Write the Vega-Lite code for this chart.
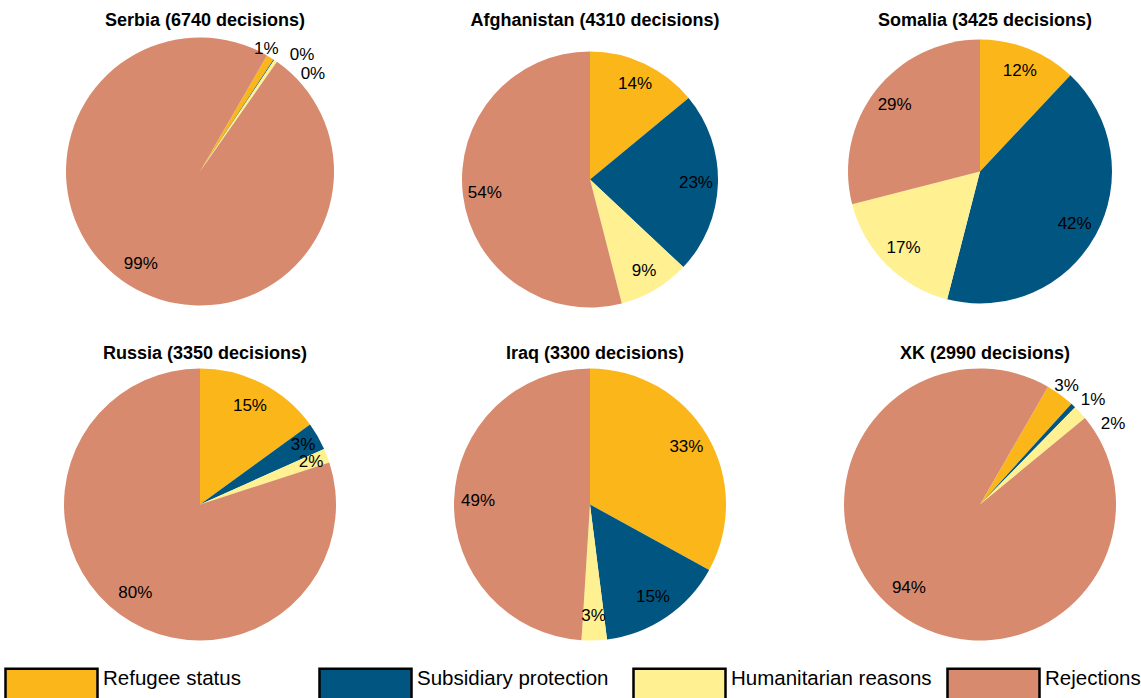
{
  "$schema": "https://vega.github.io/schema/vega-lite/v6.json",
  "background": "white",
  "padding": {"left": 4, "top": 11.5, "right": 0, "bottom": 0},
  "datasets": {
    "decisions": [
      {"country": "Serbia", "category": "Refugee status", "order": 1, "share": 0.009},
      {"country": "Serbia", "category": "Subsidiary protection", "order": 2, "share": 0.001},
      {"country": "Serbia", "category": "Humanitarian reasons", "order": 3, "share": 0.004},
      {"country": "Serbia", "category": "Rejections", "order": 4, "share": 0.986},
      {"country": "Afghanistan", "category": "Refugee status", "order": 1, "share": 0.14},
      {"country": "Afghanistan", "category": "Subsidiary protection", "order": 2, "share": 0.23},
      {"country": "Afghanistan", "category": "Humanitarian reasons", "order": 3, "share": 0.09},
      {"country": "Afghanistan", "category": "Rejections", "order": 4, "share": 0.54},
      {"country": "Somalia", "category": "Refugee status", "order": 1, "share": 0.12},
      {"country": "Somalia", "category": "Subsidiary protection", "order": 2, "share": 0.42},
      {"country": "Somalia", "category": "Humanitarian reasons", "order": 3, "share": 0.17},
      {"country": "Somalia", "category": "Rejections", "order": 4, "share": 0.29},
      {"country": "Russia", "category": "Refugee status", "order": 1, "share": 0.15},
      {"country": "Russia", "category": "Subsidiary protection", "order": 2, "share": 0.033},
      {"country": "Russia", "category": "Humanitarian reasons", "order": 3, "share": 0.017},
      {"country": "Russia", "category": "Rejections", "order": 4, "share": 0.8},
      {"country": "Iraq", "category": "Refugee status", "order": 1, "share": 0.33},
      {"country": "Iraq", "category": "Subsidiary protection", "order": 2, "share": 0.15},
      {"country": "Iraq", "category": "Humanitarian reasons", "order": 3, "share": 0.03},
      {"country": "Iraq", "category": "Rejections", "order": 4, "share": 0.49},
      {"country": "XK", "category": "Refugee status", "order": 1, "share": 0.034},
      {"country": "XK", "category": "Subsidiary protection", "order": 2, "share": 0.006},
      {"country": "XK", "category": "Humanitarian reasons", "order": 3, "share": 0.017},
      {"country": "XK", "category": "Rejections", "order": 4, "share": 0.943}
    ]
  },
  "data": {"name": "decisions"},
  "columns": 3,
  "spacing": {"row": 12, "column": 10},
  "resolve": {"scale": {"theta": "independent"}},
  "concat": [
    {
      "title": {"text": "Serbia (6740 decisions)"},
      "width": 380, "height": 290,
      "transform": [{"filter": "datum.country === 'Serbia'"}],
      "encoding": {
        "theta": {"field": "share", "type": "quantitative", "stack": true, "scale": {"range": [0.5236, 6.8068]}},
        "order": {"field": "order", "type": "quantitative"}
      },
      "layer": [
        {"mark": {"type": "arc", "outerRadius": 134},
         "encoding": {"color": {"field": "category", "type": "nominal",
           "scale": {"domain": ["Refugee status", "Subsidiary protection", "Humanitarian reasons", "Rejections"], "range": ["#FBB61A", "#005680", "#FFF191", "#D78A6D"]},
           "legend": {"orient": "none", "legendX": -6, "legendY": 610.5, "direction": "horizontal", "columns": 4, "gridAlign": "all", "columnPadding": 10, "title": null, "symbolType": "M-1,-0.348H1V0.348H-1Z", "symbolSize": 8464, "symbolStrokeColor": "black", "symbolStrokeWidth": 2.5, "symbolOpacity": 1, "labelFont": "Liberation Sans", "labelFontSize": 20.5, "labelColor": "black", "labelOffset": 4, "labelLimit": 400, "labelBaseline": "alphabetic", "padding": 0}}}},
        {"mark": {"type": "text", "radius": 110},
         "encoding": {"detail": {"field": "category"}, "text": {"condition": {"test": "datum.share < 0.05", "value": ""}, "field": "share", "type": "quantitative", "format": ".0%"}}},
        {"mark": {"type": "text", "radius": 140, "dx": -7, "dy": -3},
         "encoding": {"detail": {"field": "category"}, "text": {"condition": {"test": "datum.category !== 'Refugee status'", "value": ""}, "field": "share", "type": "quantitative", "format": ".0%"}}},
        {"mark": {"type": "text", "radius": 140, "dx": 25, "dy": 0},
         "encoding": {"detail": {"field": "category"}, "text": {"condition": {"test": "datum.category !== 'Subsidiary protection'", "value": ""}, "field": "share", "type": "quantitative", "format": ".0%"}}},
        {"mark": {"type": "text", "radius": 140, "dx": 34, "dy": 18},
         "encoding": {"detail": {"field": "category"}, "text": {"condition": {"test": "datum.category !== 'Humanitarian reasons'", "value": ""}, "field": "share", "type": "quantitative", "format": ".0%"}}}
      ]
    },
    {
      "title": {"text": "Afghanistan (4310 decisions)"},
      "width": 380, "height": 306,
      "transform": [{"filter": "datum.country === 'Afghanistan'"}],
      "encoding": {
        "theta": {"field": "share", "type": "quantitative", "stack": true},
        "order": {"field": "order", "type": "quantitative"}
      },
      "layer": [
        {"mark": {"type": "arc", "outerRadius": 128},
         "encoding": {"color": {"field": "category", "type": "nominal",
           "scale": {"domain": ["Refugee status", "Subsidiary protection", "Humanitarian reasons", "Rejections"], "range": ["#FBB61A", "#005680", "#FFF191", "#D78A6D"]},
           "legend": {"orient": "none", "legendX": -6, "legendY": 610.5, "direction": "horizontal", "columns": 4, "gridAlign": "all", "columnPadding": 10, "title": null, "symbolType": "M-1,-0.348H1V0.348H-1Z", "symbolSize": 8464, "symbolStrokeColor": "black", "symbolStrokeWidth": 2.5, "symbolOpacity": 1, "labelFont": "Liberation Sans", "labelFontSize": 20.5, "labelColor": "black", "labelOffset": 4, "labelLimit": 400, "labelBaseline": "alphabetic", "padding": 0}}}},
        {"mark": {"type": "text", "radius": 106},
         "encoding": {"detail": {"field": "category"}, "text": {"field": "share", "type": "quantitative", "format": ".0%"}}}
      ]
    },
    {
      "title": {"text": "Somalia (3425 decisions)"},
      "width": 380, "height": 290,
      "transform": [{"filter": "datum.country === 'Somalia'"}],
      "encoding": {
        "theta": {"field": "share", "type": "quantitative", "stack": true},
        "order": {"field": "order", "type": "quantitative"}
      },
      "layer": [
        {"mark": {"type": "arc", "outerRadius": 132},
         "encoding": {"color": {"field": "category", "type": "nominal",
           "scale": {"domain": ["Refugee status", "Subsidiary protection", "Humanitarian reasons", "Rejections"], "range": ["#FBB61A", "#005680", "#FFF191", "#D78A6D"]},
           "legend": {"orient": "none", "legendX": -6, "legendY": 610.5, "direction": "horizontal", "columns": 4, "gridAlign": "all", "columnPadding": 10, "title": null, "symbolType": "M-1,-0.348H1V0.348H-1Z", "symbolSize": 8464, "symbolStrokeColor": "black", "symbolStrokeWidth": 2.5, "symbolOpacity": 1, "labelFont": "Liberation Sans", "labelFontSize": 20.5, "labelColor": "black", "labelOffset": 4, "labelLimit": 400, "labelBaseline": "alphabetic", "padding": 0}}}},
        {"mark": {"type": "text", "radius": 108},
         "encoding": {"detail": {"field": "category"}, "text": {"field": "share", "type": "quantitative", "format": ".0%"}}}
      ]
    },
    {
      "title": {"text": "Russia (3350 decisions)"},
      "width": 380, "height": 290,
      "transform": [{"filter": "datum.country === 'Russia'"}],
      "encoding": {
        "theta": {"field": "share", "type": "quantitative", "stack": true},
        "order": {"field": "order", "type": "quantitative"}
      },
      "layer": [
        {"mark": {"type": "arc", "outerRadius": 136},
         "encoding": {"color": {"field": "category", "type": "nominal",
           "scale": {"domain": ["Refugee status", "Subsidiary protection", "Humanitarian reasons", "Rejections"], "range": ["#FBB61A", "#005680", "#FFF191", "#D78A6D"]},
           "legend": {"orient": "none", "legendX": -6, "legendY": 610.5, "direction": "horizontal", "columns": 4, "gridAlign": "all", "columnPadding": 10, "title": null, "symbolType": "M-1,-0.348H1V0.348H-1Z", "symbolSize": 8464, "symbolStrokeColor": "black", "symbolStrokeWidth": 2.5, "symbolOpacity": 1, "labelFont": "Liberation Sans", "labelFontSize": 20.5, "labelColor": "black", "labelOffset": 4, "labelLimit": 400, "labelBaseline": "alphabetic", "padding": 0}}}},
        {"mark": {"type": "text", "radius": 110},
         "encoding": {"detail": {"field": "category"}, "text": {"condition": {"test": "datum.share < 0.05", "value": ""}, "field": "share", "type": "quantitative", "format": ".0%"}}},
        {"mark": {"type": "text", "radius": 119},
         "encoding": {"detail": {"field": "category"}, "text": {"condition": {"test": "datum.share >= 0.05", "value": ""}, "field": "share", "type": "quantitative", "format": ".0%"}}}
      ]
    },
    {
      "title": {"text": "Iraq (3300 decisions)"},
      "width": 380, "height": 290,
      "transform": [{"filter": "datum.country === 'Iraq'"}],
      "encoding": {
        "theta": {"field": "share", "type": "quantitative", "stack": true},
        "order": {"field": "order", "type": "quantitative"}
      },
      "layer": [
        {"mark": {"type": "arc", "outerRadius": 136},
         "encoding": {"color": {"field": "category", "type": "nominal",
           "scale": {"domain": ["Refugee status", "Subsidiary protection", "Humanitarian reasons", "Rejections"], "range": ["#FBB61A", "#005680", "#FFF191", "#D78A6D"]},
           "legend": {"orient": "none", "legendX": -6, "legendY": 610.5, "direction": "horizontal", "columns": 4, "gridAlign": "all", "columnPadding": 10, "title": null, "symbolType": "M-1,-0.348H1V0.348H-1Z", "symbolSize": 8464, "symbolStrokeColor": "black", "symbolStrokeWidth": 2.5, "symbolOpacity": 1, "labelFont": "Liberation Sans", "labelFontSize": 20.5, "labelColor": "black", "labelOffset": 4, "labelLimit": 400, "labelBaseline": "alphabetic", "padding": 0}}}},
        {"mark": {"type": "text", "radius": 112},
         "encoding": {"detail": {"field": "category"}, "text": {"field": "share", "type": "quantitative", "format": ".0%"}}}
      ]
    },
    {
      "title": {"text": "XK (2990 decisions)"},
      "width": 380, "height": 290,
      "transform": [{"filter": "datum.country === 'XK'"}],
      "encoding": {
        "theta": {"field": "share", "type": "quantitative", "stack": true, "scale": {"range": [0.5236, 6.8068]}},
        "order": {"field": "order", "type": "quantitative"}
      },
      "layer": [
        {"mark": {"type": "arc", "outerRadius": 136},
         "encoding": {"color": {"field": "category", "type": "nominal",
           "scale": {"domain": ["Refugee status", "Subsidiary protection", "Humanitarian reasons", "Rejections"], "range": ["#FBB61A", "#005680", "#FFF191", "#D78A6D"]},
           "legend": {"orient": "none", "legendX": -6, "legendY": 610.5, "direction": "horizontal", "columns": 4, "gridAlign": "all", "columnPadding": 10, "title": null, "symbolType": "M-1,-0.348H1V0.348H-1Z", "symbolSize": 8464, "symbolStrokeColor": "black", "symbolStrokeWidth": 2.5, "symbolOpacity": 1, "labelFont": "Liberation Sans", "labelFontSize": 20.5, "labelColor": "black", "labelOffset": 4, "labelLimit": 400, "labelBaseline": "alphabetic", "padding": 0}}}},
        {"mark": {"type": "text", "radius": 110},
         "encoding": {"detail": {"field": "category"}, "text": {"condition": {"test": "datum.share < 0.05", "value": ""}, "field": "share", "type": "quantitative", "format": ".0%"}}},
        {"mark": {"type": "text", "radius": 140, "dx": 4, "dy": -5},
         "encoding": {"detail": {"field": "category"}, "text": {"condition": {"test": "datum.category !== 'Refugee status'", "value": ""}, "field": "share", "type": "quantitative", "format": ".0%"}}},
        {"mark": {"type": "text", "radius": 140, "dx": 17, "dy": -3},
         "encoding": {"detail": {"field": "category"}, "text": {"condition": {"test": "datum.category !== 'Subsidiary protection'", "value": ""}, "field": "share", "type": "quantitative", "format": ".0%"}}},
        {"mark": {"type": "text", "radius": 140, "dx": 30, "dy": 14},
         "encoding": {"detail": {"field": "category"}, "text": {"condition": {"test": "datum.category !== 'Humanitarian reasons'", "value": ""}, "field": "share", "type": "quantitative", "format": ".0%"}}}
      ]
    }
  ],
  "config": {
    "view": {"stroke": null},
    "font": "Liberation Sans",
    "title": {"font": "Liberation Sans", "fontSize": 18, "fontWeight": "bold", "color": "black", "offset": -3.5, "dx": 5, "anchor": "middle"},
    "text": {"font": "Liberation Sans", "fontSize": 17, "color": "black", "align": "center", "baseline": "middle"}
  }
}
